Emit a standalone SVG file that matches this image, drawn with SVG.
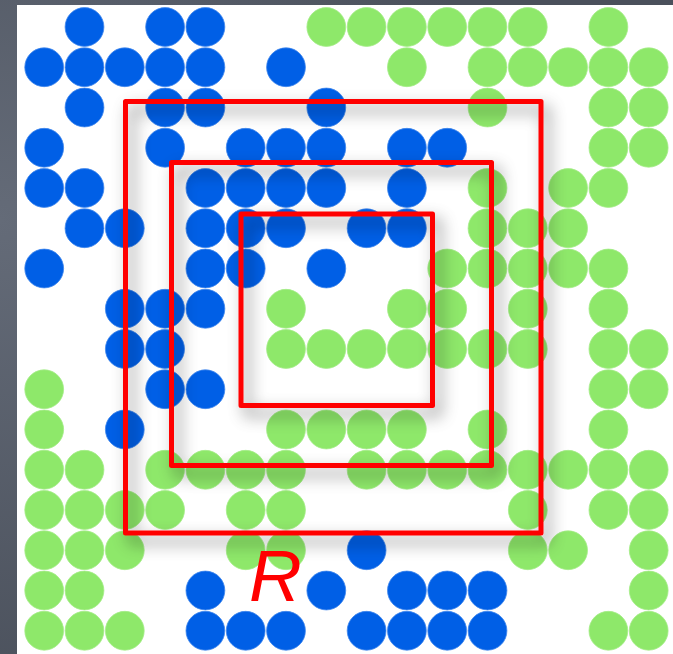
<svg xmlns="http://www.w3.org/2000/svg" xmlns:xlink="http://www.w3.org/1999/xlink" width="673" height="654" viewBox="0 0 673 654">
<defs>
<radialGradient id="bg" cx="0" cy="220" r="500" gradientUnits="userSpaceOnUse">
<stop offset="0" stop-color="#646b78"/>
<stop offset="1" stop-color="#4a505b"/>
</radialGradient>
<filter id="sh" x="-10%" y="-10%" width="130%" height="130%">
<feGaussianBlur in="SourceAlpha" stdDeviation="8"/>
<feOffset dx="6" dy="8" result="b"/>
<feFlood flood-color="#000" flood-opacity="0.5"/>
<feComposite in2="b" operator="in"/>
<feMerge><feMergeNode/><feMergeNode in="SourceGraphic"/></feMerge>
</filter>
<circle id="d" r="19.4"/>
</defs>
<style>
.b{fill:#005fe6;stroke:#3f86ee;stroke-width:0.8}
.g{fill:#8ee86a;stroke:#a4ec88;stroke-width:0.8}
.sq{fill:none;stroke:#ff0000;stroke-width:5;stroke-linejoin:round}
.lbl{font-family:"Liberation Sans",Arial,sans-serif;font-style:italic;font-size:73px;fill:#ff0000}
</style>
<rect width="673" height="654" fill="url(#bg)"/>
<rect x="17" y="5" width="656" height="649" fill="#ffffff"/>
<g id="dots">
<!-- row 0 -->
<use href="#d" class="b" x="84.5" y="27"/><use href="#d" class="b" x="165.1" y="27"/><use href="#d" class="b" x="205.4" y="27"/>
<use href="#d" class="g" x="326.3" y="27"/><use href="#d" class="g" x="366.6" y="27"/><use href="#d" class="g" x="406.9" y="27"/><use href="#d" class="g" x="447.2" y="27"/><use href="#d" class="g" x="487.5" y="27"/><use href="#d" class="g" x="527.8" y="27"/><use href="#d" class="g" x="608.4" y="27"/>
<!-- row 1 -->
<use href="#d" class="b" x="44.2" y="67.25"/><use href="#d" class="b" x="84.5" y="67.25"/><use href="#d" class="b" x="124.8" y="67.25"/><use href="#d" class="b" x="165.1" y="67.25"/><use href="#d" class="b" x="205.4" y="67.25"/><use href="#d" class="b" x="286" y="67.25"/>
<use href="#d" class="g" x="406.9" y="67.25"/><use href="#d" class="g" x="487.5" y="67.25"/><use href="#d" class="g" x="527.8" y="67.25"/><use href="#d" class="g" x="568.1" y="67.25"/><use href="#d" class="g" x="608.4" y="67.25"/><use href="#d" class="g" x="648.7" y="67.25"/>
<!-- row 2 -->
<use href="#d" class="b" x="84.5" y="107.5"/><use href="#d" class="b" x="165.1" y="107.5"/><use href="#d" class="b" x="205.4" y="107.5"/><use href="#d" class="b" x="326.3" y="107.5"/>
<use href="#d" class="g" x="487.5" y="107.5"/><use href="#d" class="g" x="608.4" y="107.5"/><use href="#d" class="g" x="648.7" y="107.5"/>
<!-- row 3 -->
<use href="#d" class="b" x="44.2" y="147.75"/><use href="#d" class="b" x="165.1" y="147.75"/><use href="#d" class="b" x="245.7" y="147.75"/><use href="#d" class="b" x="286" y="147.75"/><use href="#d" class="b" x="326.3" y="147.75"/><use href="#d" class="b" x="406.9" y="147.75"/><use href="#d" class="b" x="447.2" y="147.75"/>
<use href="#d" class="g" x="608.4" y="147.75"/><use href="#d" class="g" x="648.7" y="147.75"/>
<!-- row 4 -->
<use href="#d" class="b" x="44.2" y="188"/><use href="#d" class="b" x="84.5" y="188"/><use href="#d" class="b" x="205.4" y="188"/><use href="#d" class="b" x="245.7" y="188"/><use href="#d" class="b" x="286" y="188"/><use href="#d" class="b" x="326.3" y="188"/><use href="#d" class="b" x="406.9" y="188"/>
<use href="#d" class="g" x="487.5" y="188"/><use href="#d" class="g" x="568.1" y="188"/><use href="#d" class="g" x="608.4" y="188"/>
<!-- row 5 -->
<use href="#d" class="b" x="84.5" y="228.25"/><use href="#d" class="b" x="124.8" y="228.25"/><use href="#d" class="b" x="205.4" y="228.25"/><use href="#d" class="b" x="245.7" y="228.25"/><use href="#d" class="b" x="286" y="228.25"/><use href="#d" class="b" x="366.6" y="228.25"/><use href="#d" class="b" x="406.9" y="228.25"/>
<use href="#d" class="g" x="487.5" y="228.25"/><use href="#d" class="g" x="527.8" y="228.25"/><use href="#d" class="g" x="568.1" y="228.25"/>
<!-- row 6 -->
<use href="#d" class="b" x="44.2" y="268.5"/><use href="#d" class="b" x="205.4" y="268.5"/><use href="#d" class="b" x="245.7" y="268.5"/><use href="#d" class="b" x="326.3" y="268.5"/>
<use href="#d" class="g" x="447.2" y="268.5"/><use href="#d" class="g" x="487.5" y="268.5"/><use href="#d" class="g" x="527.8" y="268.5"/><use href="#d" class="g" x="568.1" y="268.5"/><use href="#d" class="g" x="608.4" y="268.5"/>
<!-- row 7 -->
<use href="#d" class="b" x="124.8" y="308.75"/><use href="#d" class="b" x="165.1" y="308.75"/><use href="#d" class="b" x="205.4" y="308.75"/>
<use href="#d" class="g" x="286" y="308.75"/><use href="#d" class="g" x="406.9" y="308.75"/><use href="#d" class="g" x="447.2" y="308.75"/><use href="#d" class="g" x="527.8" y="308.75"/><use href="#d" class="g" x="608.4" y="308.75"/>
<!-- row 8 -->
<use href="#d" class="b" x="124.8" y="349"/><use href="#d" class="b" x="165.1" y="349"/>
<use href="#d" class="g" x="286" y="349"/><use href="#d" class="g" x="326.3" y="349"/><use href="#d" class="g" x="366.6" y="349"/><use href="#d" class="g" x="406.9" y="349"/><use href="#d" class="g" x="447.2" y="349"/><use href="#d" class="g" x="487.5" y="349"/><use href="#d" class="g" x="527.8" y="349"/><use href="#d" class="g" x="608.4" y="349"/><use href="#d" class="g" x="648.7" y="349"/>
<!-- row 9 -->
<use href="#d" class="g" x="44.2" y="389.25"/><use href="#d" class="b" x="165.1" y="389.25"/><use href="#d" class="b" x="205.4" y="389.25"/>
<use href="#d" class="g" x="608.4" y="389.25"/><use href="#d" class="g" x="648.7" y="389.25"/>
<!-- row 10 -->
<use href="#d" class="g" x="44.2" y="429.5"/><use href="#d" class="b" x="124.8" y="429.5"/>
<use href="#d" class="g" x="286" y="429.5"/><use href="#d" class="g" x="326.3" y="429.5"/><use href="#d" class="g" x="366.6" y="429.5"/><use href="#d" class="g" x="406.9" y="429.5"/><use href="#d" class="g" x="487.5" y="429.5"/><use href="#d" class="g" x="608.4" y="429.5"/>
<!-- row 11 -->
<use href="#d" class="g" x="44.2" y="469.75"/><use href="#d" class="g" x="84.5" y="469.75"/><use href="#d" class="g" x="165.1" y="469.75"/><use href="#d" class="g" x="205.4" y="469.75"/><use href="#d" class="g" x="245.7" y="469.75"/><use href="#d" class="g" x="286" y="469.75"/>
<use href="#d" class="g" x="366.6" y="469.75"/><use href="#d" class="g" x="406.9" y="469.75"/><use href="#d" class="g" x="447.2" y="469.75"/><use href="#d" class="g" x="487.5" y="469.75"/><use href="#d" class="g" x="527.8" y="469.75"/><use href="#d" class="g" x="568.1" y="469.75"/><use href="#d" class="g" x="608.4" y="469.75"/><use href="#d" class="g" x="648.7" y="469.75"/>
<!-- row 12 -->
<use href="#d" class="g" x="44.2" y="510"/><use href="#d" class="g" x="84.5" y="510"/><use href="#d" class="g" x="124.8" y="510"/><use href="#d" class="g" x="165.1" y="510"/><use href="#d" class="g" x="245.7" y="510"/><use href="#d" class="g" x="286" y="510"/>
<use href="#d" class="g" x="527.8" y="510"/><use href="#d" class="g" x="608.4" y="510"/><use href="#d" class="g" x="648.7" y="510"/>
<!-- row 13 -->
<use href="#d" class="g" x="44.2" y="550.25"/><use href="#d" class="g" x="84.5" y="550.25"/><use href="#d" class="g" x="124.8" y="550.25"/><use href="#d" class="g" x="245.7" y="550.25"/><use href="#d" class="g" x="286" y="550.25"/>
<use href="#d" class="b" x="366.6" y="550.25"/><use href="#d" class="g" x="527.8" y="550.25"/><use href="#d" class="g" x="568.1" y="550.25"/><use href="#d" class="g" x="648.7" y="550.25"/>
<!-- row 14 -->
<use href="#d" class="g" x="44.2" y="590.5"/><use href="#d" class="g" x="84.5" y="590.5"/><use href="#d" class="b" x="205.4" y="590.5"/><use href="#d" class="b" x="326.3" y="590.5"/>
<use href="#d" class="b" x="406.9" y="590.5"/><use href="#d" class="b" x="447.2" y="590.5"/><use href="#d" class="b" x="487.5" y="590.5"/><use href="#d" class="g" x="648.7" y="590.5"/>
<!-- row 15 -->
<use href="#d" class="g" x="44.2" y="630.75"/><use href="#d" class="g" x="84.5" y="630.75"/><use href="#d" class="g" x="124.8" y="630.75"/><use href="#d" class="b" x="205.4" y="630.75"/><use href="#d" class="b" x="245.7" y="630.75"/><use href="#d" class="b" x="286" y="630.75"/>
<use href="#d" class="b" x="366.6" y="630.75"/><use href="#d" class="b" x="406.9" y="630.75"/><use href="#d" class="b" x="447.2" y="630.75"/><use href="#d" class="b" x="487.5" y="630.75"/><use href="#d" class="g" x="608.4" y="630.75"/><use href="#d" class="g" x="648.7" y="630.75"/>
</g>
<g id="squares" filter="url(#sh)">
<rect id="outer" class="sq" x="125.5" y="101.5" width="415.5" height="431.5"/>
<rect id="middle" class="sq" x="171.5" y="162.5" width="320" height="303"/>
<rect id="inner" class="sq" x="241" y="214" width="191.5" height="191.5"/>
</g>
<text id="label" class="lbl" x="249" y="601">R</text>
</svg>
